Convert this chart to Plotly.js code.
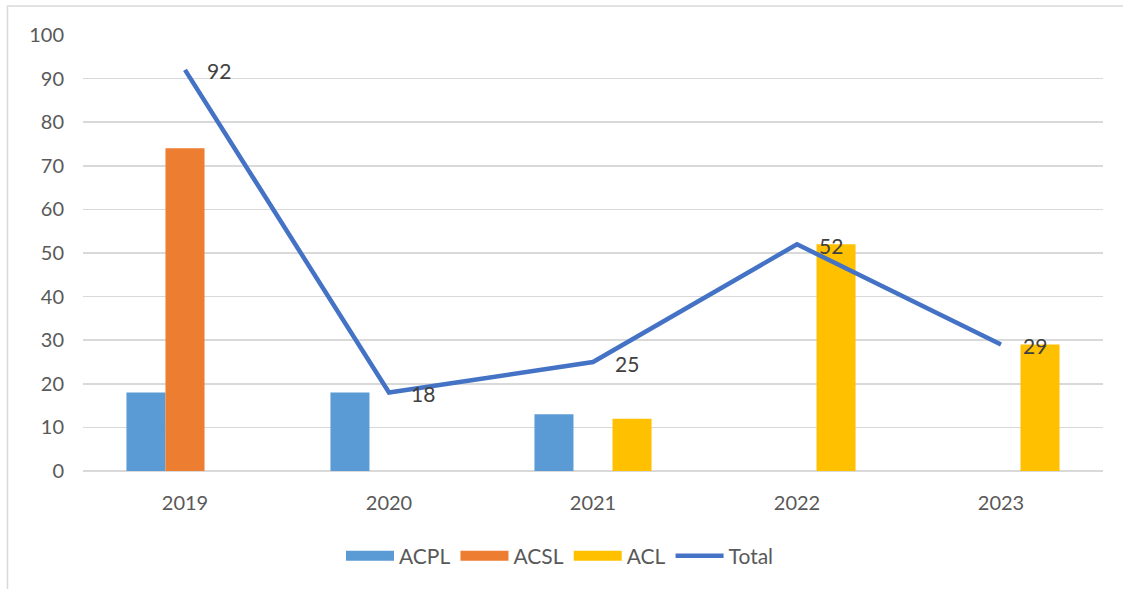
<!DOCTYPE html>
<html><head><meta charset="utf-8">
<script src="https://cdn.plot.ly/plotly-3.0.1.min.js"></script>
<style>html,body{margin:0;padding:0;background:#fff;}#chart{width:1123px;height:589px;}</style>
</head><body><div id="chart"></div>
<script>
const years = ['2019','2020','2021','2022','2023'];
const acpl = [18, 18, 13, 0, 0];
const acsl = [74, 0, 0, 0, 0];
const acl = [0, 0, 12, 52, 29];
const total = [92, 18, 25, 52, 29];
const yTicks = [0,10,20,30,40,50,60,70,80,90,100];
const seriesNames = ['ACPL','ACSL','ACL','Total'];
const colors = ['#5B9BD5','#ED7D31','#FFC000','#4472C4'];

const font = 'Lato, "Open Sans", sans-serif';
const barData = [acpl, acsl, acl];
const traces = [];
barData.forEach((vals, i) => {
  traces.push({type:'bar', name:seriesNames[i], x:years, y:vals, marker:{color:colors[i]}, showlegend:false});
});
// legend swatches (wide rectangles, like the reference)
barData.forEach((vals, i) => {
  traces.push({type:'scatter', mode:'lines', name:seriesNames[i], x:years, y:years.map(() => null),
    line:{color:colors[i], width:14}, showlegend:true, hoverinfo:'skip'});
});
traces.push({type:'scatter', mode:'lines', name:seriesNames[3], x:years, y:total,
   line:{color:colors[3], width:4.5}, cliponaxis:false});

const l=83, r=20, t=35, b=118, W=1123, H=589;
const pw=W-l-r, ph=H-t-b;
const px = v => (v-l)/pw, py = v => (H-b-v)/ph;
const annotations = total.map((v, i) => ({
  x: i, y: v, xref:'x', yref:'y', text: String(v), showarrow:false,
  xanchor:'left', yanchor:'middle', xshift:20, yshift:-1,
  font:{family:font, size:21, color:'#404040'}
}));
const layout = {
  width:W, height:H,
  margin:{l:l, r:r, t:t, b:b, pad:0},
  paper_bgcolor:'#fff', plot_bgcolor:'#fff',
  font:{family:font, size:20, color:'#595959'},
  barmode:'group', bargap:0.426, bargroupgap:0,
  showlegend:true,
  legend:{orientation:'h', x:px(560), xanchor:'center', y:py(556), yanchor:'middle',
          font:{family:font, size:21, color:'#595959'}, traceorder:'normal', itemwidth:48},
  xaxis:{type:'category', categoryorder:'array', categoryarray:years, range:[-0.5, 4.5],
         showgrid:false, zeroline:false, showline:false, ticks:'',
         tickfont:{family:font, size:20, color:'#595959'}, ticklabelstandoff:18},
  yaxis:{range:[0,100], tickvals:yTicks, ticktext:yTicks.map(String), showgrid:true,
         gridcolor:'#d9d9d9', gridwidth:1.5, zeroline:true, zerolinecolor:'#d9d9d9', zerolinewidth:1.5,
         showline:false, ticks:'', tickfont:{family:font, size:20, color:'#595959'}, ticklabelstandoff:18},
  annotations: annotations,
  shapes:[
    {type:'rect', xref:'paper', yref:'paper', x0:px(7.5), x1:px(1140), y0:py(606), y1:py(6),
     line:{color:'#d9d9d9', width:1.5}, fillcolor:'rgba(0,0,0,0)', layer:'below'}
  ]
};
Plotly.newPlot('chart', traces, layout, {displayModeBar:false, staticPlot:true});
</script></body></html>
